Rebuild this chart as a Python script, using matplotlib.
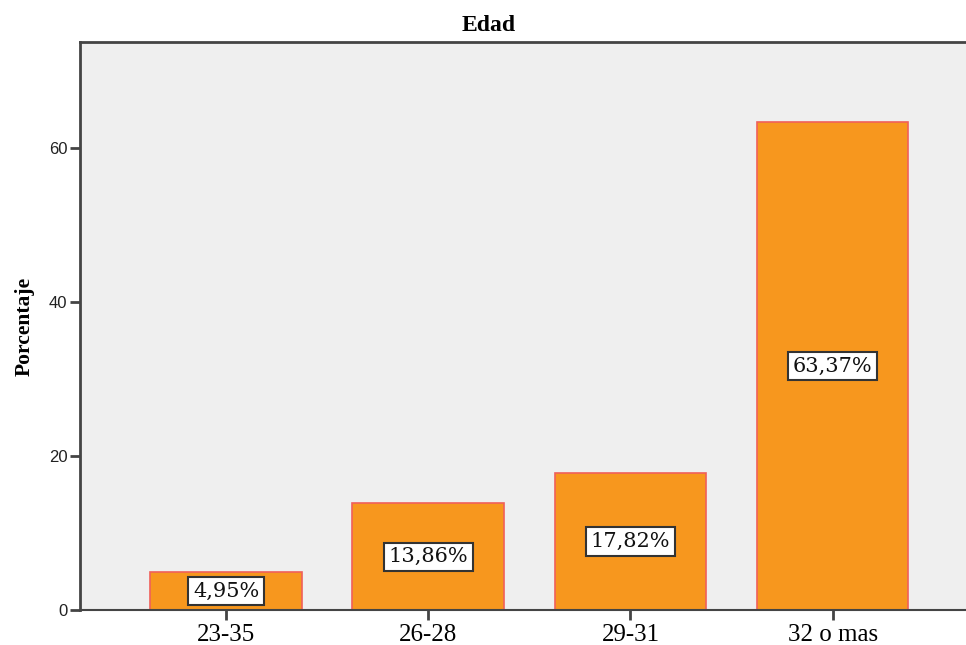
import matplotlib
matplotlib.use("Agg")
import matplotlib.pyplot as plt
import numpy as np

# data
categories = ["23-35", "26-28", "29-31", "32 o mas"]
percentages = [4.95, 13.86, 17.82, 63.37]
value_labels = ["4,95%", "13,86%", "17,82%", "63,37%"]

C_BAR = "#F7971E"
C_EDGE = "#F0605A"
C_BG = "#EFEFEF"
C_AXIS = "#444444"

fig = plt.figure(figsize=(9.66, 6.45), dpi=100)
ax = fig.add_axes([80 / 966, 1 - 610 / 645, 1 - 80 / 966, (610 - 42) / 645])
ax.set_facecolor(C_BG)

x = np.arange(len(categories))
ax.bar(x, percentages, width=0.75, color=C_BAR, edgecolor=C_EDGE, linewidth=1.2, zorder=2)

# value boxes in the middle of each bar
for xi, val, lab in zip(x, percentages, value_labels):
    ax.text(xi, val / 2, lab, ha="center", va="center", fontsize=15,
            family="DejaVu Serif", color="#111111", zorder=4,
            bbox=dict(boxstyle="square,pad=0.22", facecolor="white",
                      edgecolor="#333333", linewidth=1.5))

ax.set_xlim(-0.723, 3.66)
ax.set_ylim(0, 73.8)
ax.set_xticks(x)
ax.set_xticklabels(categories, family="Liberation Serif", fontsize=18)
ax.set_yticks([0, 20, 40, 60])
ax.tick_params(axis="y", labelsize=12, length=7, width=2, color=C_AXIS, pad=2,
               labelcolor="#222222")
ax.tick_params(axis="x", length=7, width=2, color=C_AXIS, pad=3)
for lab in ax.get_yticklabels():
    lab.set_family("Liberation Sans")

ax.spines["right"].set_visible(False)
for side in ["left", "top", "bottom"]:
    ax.spines[side].set_color(C_AXIS)
ax.spines["left"].set_linewidth(2)
ax.spines["top"].set_linewidth(2)
ax.spines["bottom"].set_linewidth(1.5)

ax.set_title("Edad", family="Liberation Serif", fontweight="bold", fontsize=17,
             x=(489 - 80) / 886, pad=8)
ax.set_ylabel("Porcentaje", family="Liberation Serif", fontweight="bold", fontsize=15.5,
              labelpad=10)

fig.savefig("out.png", dpi=100, facecolor="white")
